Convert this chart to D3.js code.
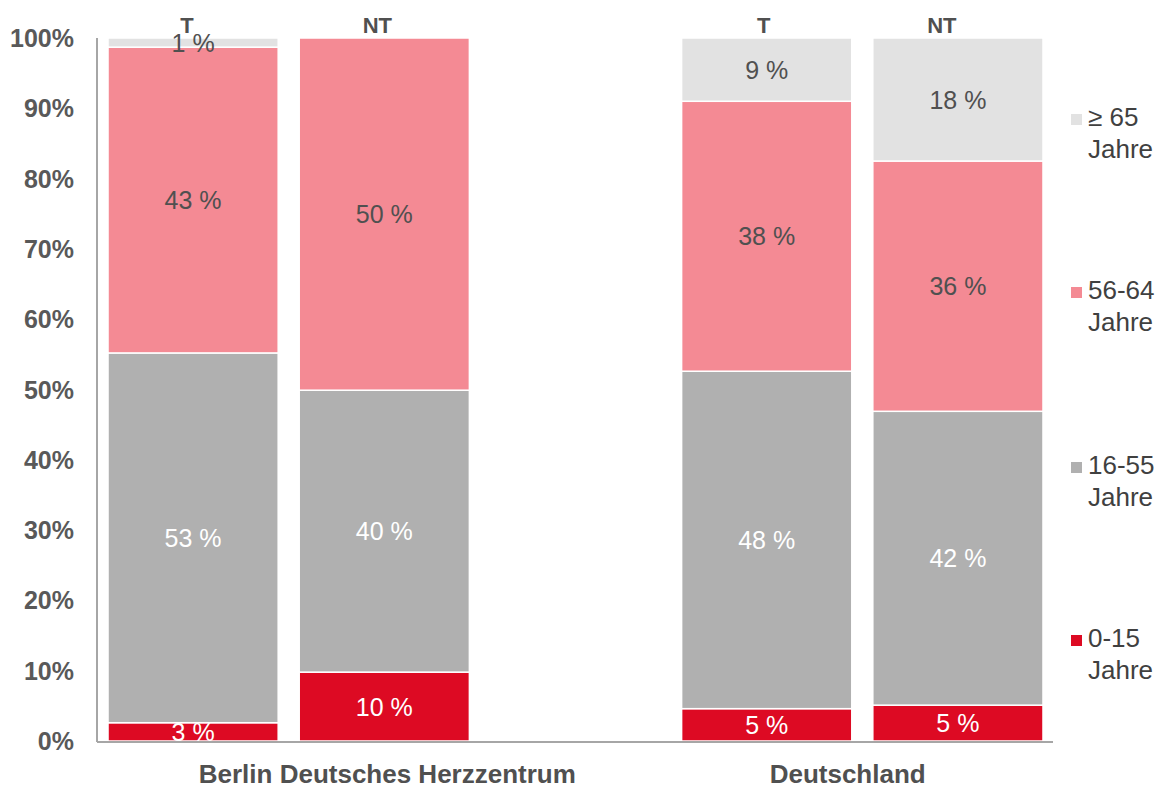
<!DOCTYPE html>
<html><head><meta charset="utf-8">
<script src="https://cdn.jsdelivr.net/npm/d3@7"></script>
<style>body{margin:0;background:#fff}svg{display:block}text{font-family:"Liberation Sans",Arial,sans-serif}</style>
</head><body><svg id="c" width="1159" height="790"></svg>
<script>
const bars = ["Berlin T", "Berlin NT", "gap", "Deutschland T", "Deutschland NT"];
const barTop = ["T", "NT", "", "T", "NT"];
const groups = ["Berlin Deutsches Herzzentrum", "Deutschland"];
const groupCenterBar = ["Berlin NT", "Deutschland T"];
const series = ["0-15 Jahre", "16-55 Jahre", "56-64 Jahre", "≥ 65 Jahre"];
const legendLine1 = ["0-15", "16-55", "56-64", "≥ 65"];
const colors = ["#DD0A23", "#B0B0B0", "#F48A94", "#E2E2E2"];
const labelColors = ["#ffffff", "#ffffff", "#505050", "#505050"];
const v015 = [2.6, 9.8, null, 4.6, 5.1];
const v1655 = [52.6, 40.1, null, 48.0, 41.8];
const v5664 = [43.5, 50.1, null, 38.4, 35.6];
const v65 = [1.3, 0, null, 9.0, 17.5];
const l015 = ["3 %", "10 %", "", "5 %", "5 %"];
const l1655 = ["53 %", "40 %", "", "48 %", "42 %"];
const l5664 = ["43 %", "50 %", "", "38 %", "36 %"];
const l65 = ["1 %", "", "", "9 %", "18 %"];
const yTicks = [0, 10, 20, 30, 40, 50, 60, 70, 80, 90, 100];

const svg = d3.select("#c");
const x = d3.scaleBand().domain(bars).range([97.5, 1053.5]).paddingInner(0.11).paddingOuter(0.055);
const y = d3.scaleLinear().domain([0, 100]).range([741, 38]);

const vals = [v015, v1655, v5664, v65];
const labs = [l015, l1655, l5664, l65];
const rows = bars.map((b, i) => {
  const r = {bar: b};
  series.forEach((s, k) => r[s] = vals[k][i] || 0);
  return r;
}).filter(r => r.bar !== "gap");
const stacked = d3.stack().keys(series)(rows);

// y axis labels
svg.append("g").selectAll("text").data(yTicks).join("text")
  .attr("x", 74).attr("y", d => y(d)).attr("dy", "0.36em")
  .attr("text-anchor", "end").attr("font-size", 25).attr("font-weight", "bold")
  .attr("fill", "#595959").text(d => d + "%");

// bars
stacked.forEach((layer, k) => {
  const g = svg.append("g");
  g.selectAll("rect").data(layer).join("rect")
    .attr("x", d => x(d.data.bar)).attr("width", x.bandwidth())
    .attr("y", d => y(d[1])).attr("height", d => Math.max(0, y(d[0]) - y(d[1])))
    .attr("fill", colors[k]).attr("stroke", "#fff").attr("stroke-width", 1.5);
  g.selectAll("text").data(layer).join("text")
    .attr("x", d => x(d.data.bar) + x.bandwidth() / 2)
    .attr("y", d => y((d[0] + d[1]) / 2)).attr("dy", "0.36em")
    .attr("text-anchor", "middle").attr("font-size", 25)
    .attr("fill", labelColors[k])
    .text(d => labs[k][bars.indexOf(d.data.bar)]);
});

// axes lines
svg.append("line").attr("x1", 97).attr("x2", 97).attr("y1", 38).attr("y2", 742)
  .attr("stroke", "#A6A6A6").attr("stroke-width", 2);
svg.append("line").attr("x1", 97).attr("x2", 1053).attr("y1", 742).attr("y2", 742)
  .attr("stroke", "#A6A6A6").attr("stroke-width", 2);

// top labels
const topDx = {"Berlin T": -6, "Berlin NT": -7, "Deutschland T": -3, "Deutschland NT": -16};
svg.append("g").selectAll("text").data(bars.filter(b => b !== "gap")).join("text")
  .attr("x", b => x(b) + x.bandwidth() / 2 + topDx[b]).attr("y", 33)
  .attr("text-anchor", "middle").attr("font-size", 22).attr("font-weight", "bold")
  .attr("fill", "#505050").text(b => barTop[bars.indexOf(b)]);

// group labels
svg.append("g").selectAll("text").data(groups).join("text")
  .attr("x", (g, i) => x(groupCenterBar[i]) + x.bandwidth() / 2 + (i === 0 ? 3 : 81))
  .attr("y", 783).attr("text-anchor", "middle").attr("font-size", 26).attr("font-weight", "bold")
  .attr("fill", "#505050").text(g => g);

// legend
const legCenter = [638, 465, 290, 117];
const lg = svg.append("g");
series.forEach((s, k) => {
  const base = legCenter[k] + 9;
  lg.append("rect").attr("x", 1071).attr("y", base - 12).attr("width", 11).attr("height", 11).attr("fill", colors[k]);
  lg.append("text").attr("x", 1088).attr("y", base).attr("font-size", 26).attr("fill", "#404040").text(legendLine1[k]);
  lg.append("text").attr("x", 1088).attr("y", base + 32).attr("font-size", 26).attr("fill", "#404040").text("Jahre");
});
</script></body></html>
